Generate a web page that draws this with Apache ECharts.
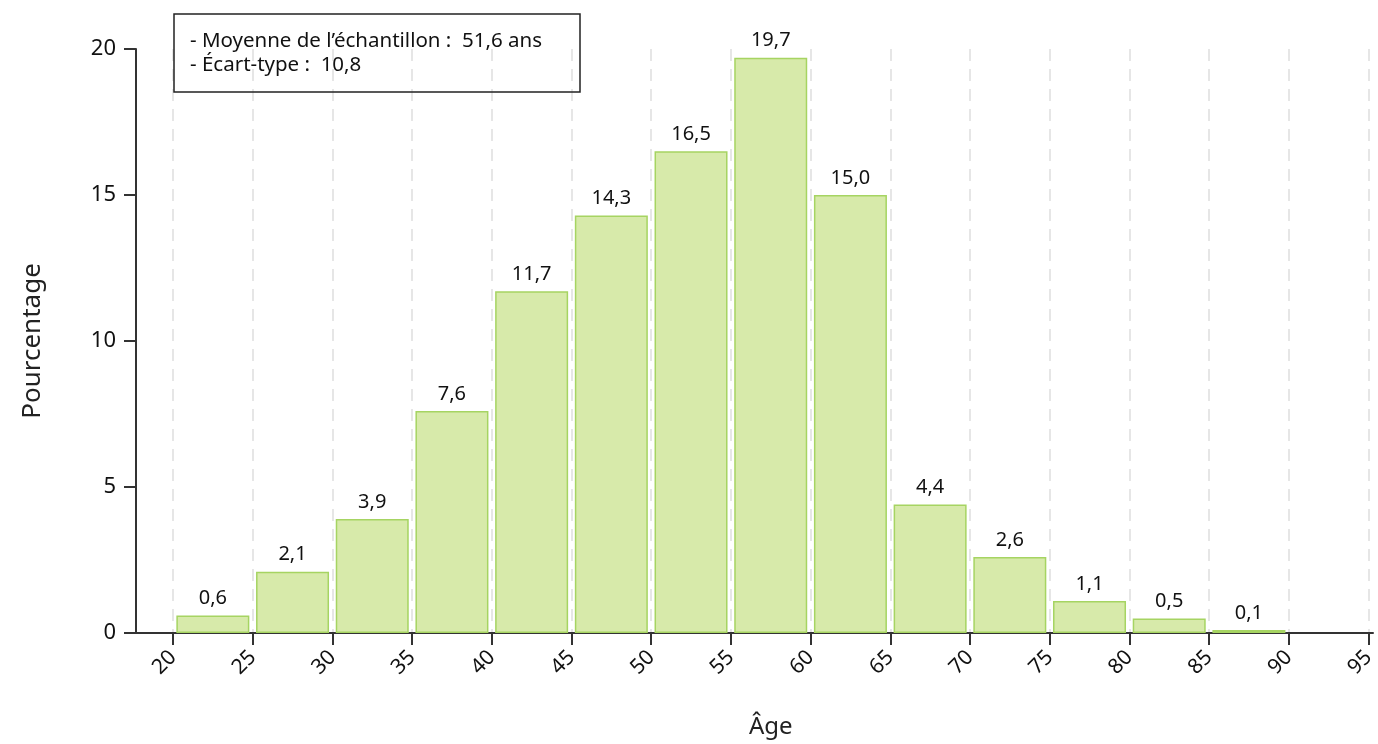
<!DOCTYPE html>
<html><head><meta charset="utf-8">
<script src="https://cdn.jsdelivr.net/npm/echarts@6/dist/echarts.min.js"></script>
<style>html,body{margin:0;padding:0;background:#fff}#c{width:1378px;height:744px}</style>
</head><body><div id="c"></div>
<script>
const binStarts = [20,25,30,35,40,45,50,55,60,65,70,75,80,85];
const binWidth = 5;
const percents = [0.6,2.1,3.9,7.6,11.7,14.3,16.5,19.7,15.0,4.4,2.6,1.1,0.5,0.1];
const infoLines = ["- Moyenne de l\u2019\u00e9chantillon :  51,6 ans", "- \u00c9cart-type :  10,8"];
const xName = "\u00c2ge";
const yName = "Pourcentage";

const FONT = "Noto Sans";
const chart = echarts.init(document.getElementById('c'));
const data = binStarts.map((s,i)=>[s+binWidth/2, percents[i]]);
chart.setOption({
  animation:false,
  textStyle:{fontFamily:FONT},
  title:{
    text: infoLines.join('\n'),
    left:174, top:14,
    borderColor:'#222', borderWidth:1.5,
    padding:[15,38,15,16],
    textStyle:{fontFamily:FONT, fontSize:20.5, fontWeight:'normal', color:'#111', lineHeight:24}
  },
  grid:[
    {left:173, right:5, top:49, bottom:111},
    {left:136, right:5, top:49, bottom:111}
  ],
  xAxis:[{
    type:'value', gridIndex:0, min:20, max:95, interval:5,
    name:xName, nameLocation:'middle', nameGap:82,
    nameTextStyle:{fontSize:24, color:'#222', fontFamily:FONT},
    axisLine:{show:false},
    axisTick:{show:true, length:12, lineStyle:{color:'#333', width:2}},
    axisLabel:{rotate:45, fontSize:21, color:'#111', margin:21, fontFamily:FONT},
    splitLine:{show:true, lineStyle:{color:'#e6e6e6', width:2, type:[12,8]}}
  },{
    type:'value', gridIndex:1, min:0, max:1,
    axisLine:{show:true, lineStyle:{color:'#333', width:2}},
    axisTick:{show:false}, axisLabel:{show:false}, splitLine:{show:false}
  }],
  yAxis:[{
    type:'value', gridIndex:0, min:0, max:20, interval:5, offset:37,
    name:yName, nameLocation:'middle', nameGap:90, nameRotate:90,
    nameTextStyle:{fontSize:26, color:'#222', fontFamily:FONT},
    axisLine:{show:true, lineStyle:{color:'#333', width:2}},
    axisTick:{show:true, length:12, lineStyle:{color:'#333', width:2}},
    axisLabel:{fontSize:22, color:'#111', margin:20, fontFamily:FONT},
    splitLine:{show:false}
  },{
    type:'value', gridIndex:1, show:false
  }],
  series:[{
    type:'bar', xAxisIndex:0, yAxisIndex:0,
    data:data, barWidth:73,
    itemStyle:{color:'#d7eaaa', borderColor:'#a6d462', borderWidth:1.5},
    label:{show:true, position:'top', distance:7, fontSize:20, color:'#111', fontFamily:FONT,
      formatter:p=>p.value[1].toFixed(1).replace('.',',')}
  }]
});
</script></body></html>
